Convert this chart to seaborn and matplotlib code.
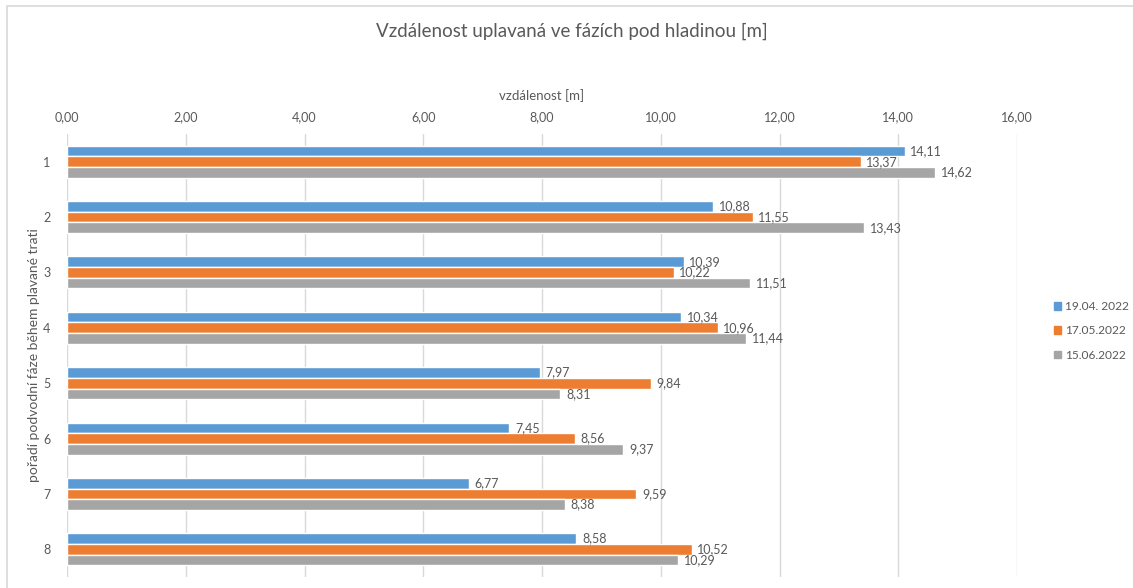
import matplotlib
matplotlib.use("Agg")
import matplotlib.pyplot as plt
from matplotlib.patches import Rectangle, Patch
import seaborn as sns
import pandas as pd

# data
faze = ["1", "2", "3", "4", "5", "6", "7", "8"]
datumy = ["19.04. 2022", "17.05.2022", "15.06.2022"]
mereni_1904 = [14.11, 10.88, 10.39, 10.34, 7.97, 7.45, 6.77, 8.58]
mereni_1705 = [13.37, 11.55, 10.22, 10.96, 9.84, 8.56, 9.59, 10.52]
mereni_1506 = [14.62, 13.43, 11.51, 11.44, 8.31, 9.37, 8.38, 10.29]
x_ticks = [0, 2, 4, 6, 8, 10, 12, 14, 16]

barvy = ["#5B9BD5", "#ED7D31", "#A5A5A5"]
text_col = "#595959"
grid_col = "#D9D9D9"

rows = []
for datum, hodnoty in zip(datumy, [mereni_1904, mereni_1705, mereni_1506]):
    for f, v in zip(faze, hodnoty):
        rows.append({"faze": f, "datum": datum, "vzdalenost": v})
df = pd.DataFrame(rows)

sns.set_style("white")
plt.rcParams["font.family"] = ["Lato", "DejaVu Sans"]

fig = plt.figure(figsize=(11.33, 5.88), dpi=100)
ax = fig.add_axes([67 / 1133, 1 - 577 / 588, (1017 - 67) / 1133, 443 / 588])

sns.barplot(data=df, x="vzdalenost", y="faze", hue="datum", order=faze,
            hue_order=datumy, palette=barvy, orient="h", width=0.58,
            saturation=1, legend=False, ax=ax)

for cont, hodnoty in zip(ax.containers, [mereni_1904, mereni_1705, mereni_1506]):
    ax.bar_label(cont, labels=[f"{v:.2f}".replace(".", ",") for v in hodnoty],
                 padding=4, fontsize=9, color=text_col)

ax.set_xlim(0, 16)
ax.set_ylim(7.5, -0.5)
ax.set_xticks(x_ticks)
ax.set_xticklabels([f"{t:.2f}".replace(".", ",") for t in x_ticks])
ax.xaxis.tick_top()
ax.xaxis.set_label_position("top")
ax.set_xlabel("vzdálenost [m]", fontsize=9.5, color=text_col, labelpad=8)
ax.set_ylabel("pořadí podvodní fáze během plavané trati", fontsize=10,
              color=text_col, labelpad=2)
ax.tick_params(axis="both", length=0, labelsize=9, colors=text_col)
ax.tick_params(axis="x", pad=8)
ax.tick_params(axis="y", pad=12)
ax.grid(axis="x", color=grid_col, linewidth=1)
ax.set_axisbelow(True)
for s in ax.spines.values():
    s.set_visible(False)

fig.text(0.505, 1 - 31 / 588, "Vzdálenost uplavaná ve fázích pod hladinou [m]",
         ha="center", va="center", fontsize=13.5, color=text_col)

handles = [Patch(facecolor=c, edgecolor=c) for c in barvy]
fig.legend(handles, datumy, loc="center left", bbox_to_anchor=(1050 / 1133, 1 - 331 / 588),
           frameon=False, fontsize=8.6, handlelength=0.6, handleheight=0.6,
           handletextpad=0.35, labelspacing=1.1, labelcolor=text_col,
           borderaxespad=0, borderpad=0.3)

fig.patches.append(Rectangle((7 / 1133, -0.1), 1.2, 1.1 - 6 / 588, transform=fig.transFigure,
                             fill=False, edgecolor=grid_col, linewidth=1.2))

fig.savefig("out.png", dpi=100)
